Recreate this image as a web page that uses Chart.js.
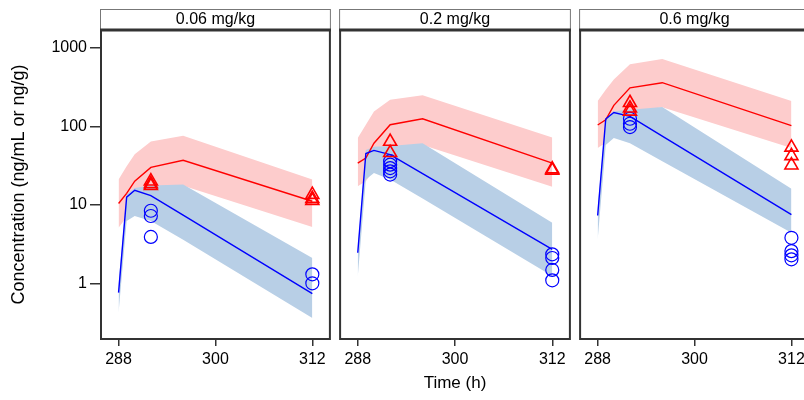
<!DOCTYPE html>
<html>
<head>
<meta charset="utf-8">
<script src="https://cdn.jsdelivr.net/npm/chart.js@4.4.1/dist/chart.umd.min.js"></script>
<style>
body { margin: 0; width: 804px; height: 400px; overflow: hidden; background: #fff; position: relative; }
canvas { position: absolute; top: 0; }
</style>
</head>
<body>
<canvas id="p0" width="340" height="400" style="left:0px"></canvas>
<canvas id="p1" width="250" height="400" style="left:330px"></canvas>
<canvas id="p2" width="250" height="400" style="left:570px"></canvas>
<script>
// time grid of the simulated curves (h)
const times = [288, 289, 290, 292, 296, 312];
const doses = ['0.06 mg/kg', '0.2 mg/kg', '0.6 mg/kg'];
const xTicks = [288, 300, 312];
const yTicks = [1, 10, 100, 1000];

// red: median and band, one row per dose
const redMedian = [
    [10.4, 14, 20, 30, 37, 11.1],
    [34, 39.5, 61, 105, 125, 34],
    [104, 121, 185, 310, 360, 102]
];
const redUpper = [
    [21, 31, 44, 64, 76, 21],
    [71, 105, 155, 218, 250, 72],
    [210, 292, 395, 620, 720, 210]
];
const redLower = [
    [5.1, 7, 9, 14, 17.5, 5.2],
    [17.2, 20, 28, 48, 58, 17],
    [53, 62, 90, 150, 175, 53]
];

// blue: median and band
const blueMedian = [
    [0.76, 12.5, 15.3, 13.1, 7.4, 0.74],
    [2.45, 45, 49.4, 43.6, 25, 2.7],
    [7.3, 124, 150, 134, 75, 7.5]
];
const blueUpper = [
    [1.0, 13.5, 16.4, 17.6, 18.1, 2.1],
    [2.8, 50, 55, 56, 61, 5.9],
    [9, 130, 156, 163, 176, 16]
];
const blueLower = [
    [0.42, 6.2, 7.2, 6.2, 3.6, 0.36],
    [1.2, 21, 25.5, 21, 12, 1.24],
    [3.6, 58, 71, 61, 36, 4.4]
];

// observed values at 292 h and 312 h
const triangles292 = [[20, 18.5, 17.5], [64, 46], [200, 170, 155]];
const triangles312 = [[13.5, 12, 11.3], [28.5, 27.5], [54, 42, 32]];
const circles292 = [[8.4, 7.2, 3.9], [36, 32.5, 29.4, 26.7, 24.3], [125, 108, 98]];
const circles312 = [[1.3, 1.0], [2.34, 2.1, 1.48, 1.09], [3.8, 2.57, 2.27, 2.02]];

const FONT = '"Liberation Sans", Arial, sans-serif';
const PINK = 'rgb(253,204,204)';
const LIGHTBLUE = 'rgb(184,207,230)';

function serie(values) {
    return values.map((v, i) => ({ x: times[i], y: v }));
}
function obs(at292, at312) {
    return at292.map(v => ({ x: 292, y: v })).concat(at312.map(v => ({ x: 312, y: v })));
}

// strip with dose label + panel frame
const stripPlugin = {
    id: 'strip',
    afterDraw(chart, args, opts) {
        const { ctx, chartArea: a } = chart;
        ctx.save();
        ctx.fillStyle = '#fff';
        ctx.fillRect(a.left, 9, a.right - a.left, a.top - 9);
        ctx.strokeStyle = '#777';
        ctx.lineWidth = 1;
        ctx.strokeRect(a.left + 0.5, 9.5, a.right - a.left - 1, a.top - 9);
        ctx.fillStyle = '#000';
        ctx.font = '16px ' + FONT;
        ctx.textAlign = 'center';
        ctx.textBaseline = 'middle';
        ctx.fillText(opts.label, (a.left + a.right) / 2, 20);
        ctx.strokeStyle = '#333';
        ctx.lineWidth = 2;
        ctx.strokeRect(a.left + 1, a.top, a.right - a.left - 2, a.bottom - a.top);
        ctx.lineWidth = 3;
        ctx.beginPath();
        ctx.moveTo(a.left, a.top);
        ctx.lineTo(a.right, a.top);
        ctx.stroke();
        ctx.restore();
    }
};

function desenhaPainel(p) {
    const primeiro = p === 0;
    const padLeft = [0, 9, 7][p];
    const padRight = [7, 8, 10][p];

    new Chart(document.getElementById('p' + p), {
        type: 'line',
        data: {
            datasets: [
                { data: serie(redUpper[p]), fill: '+1', backgroundColor: PINK, borderWidth: 0, pointRadius: 0, order: 10 },
                { data: serie(redLower[p]), fill: false, borderWidth: 0, pointRadius: 0, order: 9 },
                { data: serie(blueUpper[p]), fill: '+1', backgroundColor: LIGHTBLUE, borderWidth: 0, pointRadius: 0, order: 8 },
                { data: serie(blueLower[p]), fill: false, borderWidth: 0, pointRadius: 0, order: 7 },
                { data: serie(redMedian[p]), borderColor: '#ff0000', borderWidth: 1.4, pointRadius: 0, fill: false, order: 6 },
                { data: serie(blueMedian[p]), borderColor: '#0000ff', borderWidth: 1.4, pointRadius: 0, fill: false, order: 5 },
                {
                    data: obs(circles292[p], circles312[p]), showLine: false, pointStyle: 'circle',
                    pointRadius: 6.5, pointBorderWidth: 1.2, borderColor: '#0000ff',
                    pointBackgroundColor: 'rgba(0,0,0,0)', order: 4
                },
                {
                    data: obs(triangles292[p], triangles312[p]), showLine: false, pointStyle: 'triangle',
                    pointRadius: 7.5, pointBorderWidth: 1.6, borderColor: '#ff0000',
                    pointBackgroundColor: 'rgba(0,0,0,0)', order: 3
                }
            ]
        },
        options: {
            responsive: false,
            animation: false,
            layout: { padding: { top: 30, left: padLeft, right: padRight, bottom: 0 } },
            elements: { line: { tension: 0 } },
            plugins: {
                legend: { display: false },
                tooltip: { enabled: false },
                strip: { label: doses[p] }
            },
            scales: {
                x: {
                    type: 'linear',
                    min: 285.7,
                    max: 314.3,
                    afterBuildTicks: s => { s.ticks = xTicks.map(v => ({ value: v })); },
                    afterFit: s => { s.height = 61; },
                    grid: { drawOnChartArea: false, drawTicks: true, tickLength: 7, color: '#333', lineWidth: 1.5 },
                    border: { display: false },
                    ticks: { color: '#000', padding: 4, maxRotation: 0, font: { family: FONT, size: 16 } },
                    title: {
                        display: p === 1,
                        text: 'Time (h)',
                        color: '#000',
                        padding: { top: 0, bottom: 6 },
                        font: { family: FONT, size: 17 }
                    }
                },
                y: {
                    type: 'logarithmic',
                    display: primeiro,
                    min: 0.195,
                    max: 1690,
                    afterBuildTicks: s => { s.ticks = yTicks.map(v => ({ value: v })); },
                    afterFit: s => { s.width = primeiro ? 100 : 0; },
                    grid: { drawOnChartArea: false, drawTicks: true, tickLength: 10, color: '#333', lineWidth: 1.5 },
                    border: { display: false },
                    ticks: {
                        color: '#000', padding: 3, font: { family: FONT, size: 16 },
                        callback: v => String(v)
                    },
                    title: {
                        display: true,
                        text: 'Concentration (ng/mL or ng/g)',
                        color: '#000',
                        padding: { top: 8, bottom: 0 },
                        font: { family: FONT, size: 18 }
                    }
                }
            }
        },
        plugins: [stripPlugin]
    });
}

for (let p = 0; p < 3; p++) {
    desenhaPainel(p);
}
</script>
</body>
</html>
